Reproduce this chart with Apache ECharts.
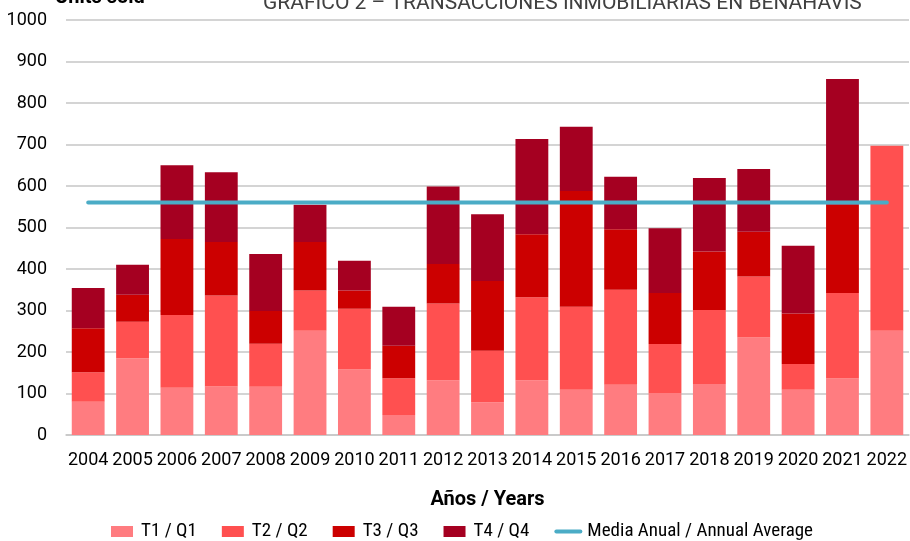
<!DOCTYPE html>
<html>
<head>
<meta charset="utf-8">
<script src="https://cdn.jsdelivr.net/npm/echarts@6/dist/echarts.min.js"></script>
<style>
html, body { margin: 0; padding: 0; background: #fff; }
#main { width: 910px; height: 541px; }
</style>
</head>
<body>
<div id="main"></div>
<script>
// datos
var years = ['2004', '2005', '2006', '2007', '2008', '2009', '2010', '2011', '2012', '2013',
  '2014', '2015', '2016', '2017', '2018', '2019', '2020', '2021', '2022'];
var q1 = [80, 185, 114, 117, 116, 251, 158, 48, 132, 79, 132, 109, 121, 101, 123, 235, 109, 136, 251];
var q2 = [71, 88, 175, 219, 104, 97, 146, 89, 185, 124, 200, 200, 229, 118, 178, 147, 62, 206, 446];
var q3 = [106, 65, 183, 129, 79, 117, 44, 78, 95, 168, 152, 279, 146, 123, 141, 108, 122, 213, 0];
var q4 = [97, 72, 178, 168, 137, 90, 72, 94, 187, 161, 229, 155, 126, 156, 177, 151, 163, 303, 0];
var media = [560, 560, 560, 560, 560, 560, 560, 560, 560, 560, 560, 560, 560, 560, 560, 560, 560, 560, 560];
var yTicks = [0, 100, 200, 300, 400, 500, 600, 700, 800, 900, 1000];

var FONT = 'Roboto, "Noto Sans", sans-serif';
var COND = '"Roboto Condensed", Roboto, sans-serif';

var myChart = echarts.init(document.getElementById('main'));

var option = {
  backgroundColor: '#fff',
  textStyle: { fontFamily: FONT },
  title: [{
    text: 'Units sold',
    left: 55,
    top: -12,
    padding: 0,
    textStyle: { fontFamily: FONT, fontSize: 20, fontWeight: 'bold', color: '#000' }
  }, {
    text: 'GRÁFICO 2 – TRANSACCIONES INMOBILIARIAS EN BENAHAVÍS',
    left: 263,
    top: -7,
    padding: 0,
    textStyle: { fontFamily: FONT, fontSize: 21, fontWeight: 'normal', color: '#404040' }
  }],
  legend: {
    top: 522,
    left: 111,
    padding: 0,
    itemWidth: 28,
    itemHeight: 11,
    itemGap: 25,
    textStyle: { fontFamily: COND, fontSize: 19, color: '#000' },
    data: [
      { name: 'T1 / Q1', icon: 'path://M0,0H22V11H0Z' },
      { name: 'T2 / Q2', icon: 'path://M0,0H22V11H0Z' },
      { name: 'T3 / Q3', icon: 'path://M0,0H22V11H0Z' },
      { name: 'T4 / Q4', icon: 'path://M0,0H22V11H0Z' },
      { name: 'Media Anual / Annual Average', icon: 'path://M2,0H26A2,2,0,0,1,26,4H2A2,2,0,0,1,2,0Z' }
    ]
  },
  grid: {
    left: 66,
    top: 20,
    width: 846,
    bottom: 106,
    containLabel: false
  },
  xAxis: {
    type: 'category',
    data: years,
    name: 'Años / Years',
    nameLocation: 'middle',
    nameGap: 55,
    nameTextStyle: { fontFamily: FONT, fontSize: 20, fontWeight: 'bold', color: '#000' },
    axisTick: { show: false },
    axisLine: { show: true, lineStyle: { color: '#c6c6c6', width: 1.5 } },
    axisLabel: { fontFamily: FONT, fontSize: 18, color: '#000', margin: 16, interval: 0 }
  },
  yAxis: {
    type: 'value',
    min: yTicks[0],
    max: yTicks[yTicks.length - 1],
    interval: 100,
    axisTick: { show: false },
    axisLine: { show: false },
    axisLabel: {
      fontFamily: FONT, fontSize: 18, color: '#000', margin: 19,
      formatter: function (v) { return String(v); }
    },
    splitLine: { lineStyle: { color: '#c6c6c6', width: 1.5 } }
  },
  series: [
    { name: 'T1 / Q1', type: 'bar', stack: 'q', data: q1, barCategoryGap: '26%', itemStyle: { color: '#FF7C80' } },
    { name: 'T2 / Q2', type: 'bar', stack: 'q', data: q2, itemStyle: { color: '#FF5050' } },
    { name: 'T3 / Q3', type: 'bar', stack: 'q', data: q3, itemStyle: { color: '#CC0000' } },
    { name: 'T4 / Q4', type: 'bar', stack: 'q', data: q4, itemStyle: { color: '#A50021' } },
    {
      name: 'Media Anual / Annual Average',
      type: 'line',
      data: media,
      symbol: 'none',
      z: 5,
      itemStyle: { color: '#4BACC6' },
      lineStyle: { color: '#4BACC6', width: 4, cap: 'round' }
    }
  ]
};

myChart.setOption(option);
window.onresize = myChart.resize;
</script>
</body>
</html>
